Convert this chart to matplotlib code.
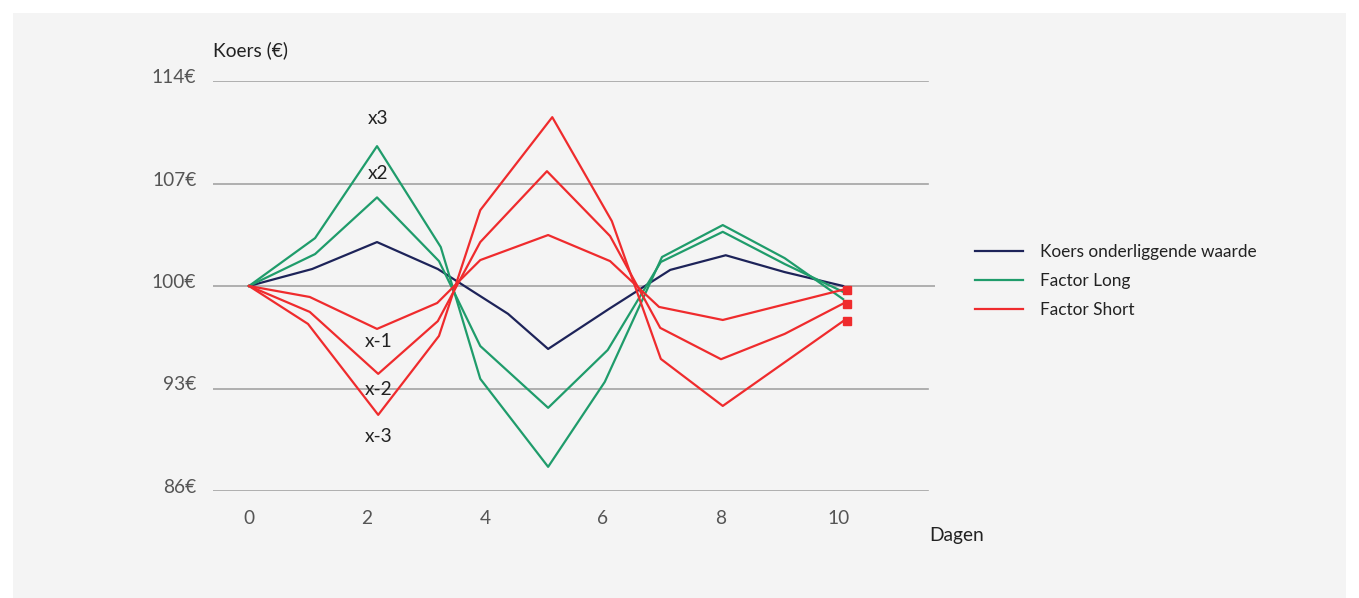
import matplotlib
matplotlib.use("Agg")
import matplotlib.pyplot as plt
from matplotlib.patches import Rectangle
from matplotlib.transforms import ScaledTranslation

# ---- data ----
y_ticks = [86, 93, 100, 107, 114]
y_tick_labels = ["86€", "93€", "100€", "107€", "114€"]
x_ticks = [0, 2, 4, 6, 8, 10]

koers_x = [0, 1.07, 2.17, 3.2, 4.39, 5.07, 6.1, 7.14, 8.08, 9.08, 10.07]
koers_y = [100, 101.16, 103.0, 101.16, 98.1, 95.7, 98.43, 101.1, 102.1, 100.95, 100.0]

long2_x = [0, 1.12, 2.17, 3.22, 3.92, 5.07, 6.08, 6.98, 8.03, 9.08, 10.07]
long2_y = [100, 102.18, 106.05, 101.7, 95.9, 91.68, 95.63, 101.64, 103.7, 101.5, 99.6]
long3_x = [0, 1.12, 2.17, 3.25, 3.92, 5.07, 6.03, 7.0, 8.03, 9.08, 10.07]
long3_y = [100, 103.27, 109.55, 102.66, 93.66, 87.65, 93.45, 101.98, 104.16, 101.9, 99.1]

short1_x = [0, 1.03, 2.17, 3.19, 3.92, 5.07, 6.12, 6.95, 8.03, 10.07]
short1_y = [100, 99.25, 97.07, 98.84, 101.77, 103.48, 101.7, 98.57, 97.68, 99.75]
short2_x = [0, 1.03, 2.19, 3.2, 3.92, 5.05, 6.12, 6.97, 8.0, 9.08, 10.07]
short2_y = [100, 98.23, 94.0, 97.6, 103.0, 107.84, 103.41, 97.14, 95.0, 96.73, 98.8]
short3_x = [0, 1.0, 2.19, 3.22, 3.92, 5.14, 6.15, 6.98, 8.03, 10.07]
short3_y = [100, 97.41, 91.2, 96.59, 105.18, 111.53, 104.43, 95.02, 91.81, 97.6]

factor_labels = ["x3", "x2", "x-1", "x-2", "x-3"]
factor_label_y = [111.47, 107.67, 96.2, 92.95, 89.75]
factor_label_x = 2.19

legend_labels = ["Koers onderliggende waarde", "Factor Long", "Factor Short"]

# ---- styling ----
NAVY = "#1d2359"
GREEN = "#1f9c6b"
RED = "#ef2b2d"
GRID = "#a3a3a3"
FONT = "Lato"
FS = 13.8

plt.rcParams["font.family"] = [FONT, "DejaVu Sans"]

W, H = 1359, 598
fig = plt.figure(figsize=(W / 100, H / 100), dpi=100, facecolor="white")
fig.patches.append(Rectangle((13 / W, 0), (1346 - 13) / W, 1 - 13 / H,
                             transform=fig.transFigure, facecolor="#f4f4f4",
                             edgecolor="none", zorder=-10))

ax = fig.add_axes([213 / W, 1 - 491 / H, (935 - 213) / W, (491 - 81) / H])
ax.set_facecolor("none")
for s in ax.spines.values():
    s.set_visible(False)

xl, xr = -0.61, 11.627
ax.set_xlim(xl, xr)
ax.set_ylim(86, 114)

for yt in y_ticks:
    xmax = 1.0 if yt == 100 else (11.508 - xl) / (xr - xl)
    ax.axhline(yt, xmin=0, xmax=xmax, color=GRID, lw=1.2, zorder=1)

lw = 1.6
ax.plot(koers_x, koers_y, color=NAVY, lw=lw, zorder=3, label=legend_labels[0])
ax.plot(long2_x, long2_y, color=GREEN, lw=lw, zorder=3, label=legend_labels[1])
ax.plot(long3_x, long3_y, color=GREEN, lw=lw, zorder=3)
for i, (sx, sy) in enumerate([(short1_x, short1_y), (short2_x, short2_y), (short3_x, short3_y)]):
    ax.plot(sx, sy, color=RED, lw=lw, zorder=3,
            label=legend_labels[2] if i == 0 else None)
    ax.plot([sx[-1] + 0.07], [sy[-1]], marker="s", ms=5.6, color=RED,
            lw=0, zorder=4, clip_on=False)

for lab, ly in zip(factor_labels, factor_label_y):
    ax.text(factor_label_x, ly, lab, ha="center", va="center",
            fontsize=FS, color="#222222", zorder=5)

ax.set_yticks(y_ticks)
ax.set_yticklabels(y_tick_labels)
ax.set_xticks(x_ticks)
ax.set_xticklabels([str(t) for t in x_ticks])
ax.tick_params(axis="both", length=0, labelsize=FS, labelcolor="#555555")
ax.tick_params(axis="y", pad=12)
ax.tick_params(axis="x", pad=14)
shift = ScaledTranslation(0, 5 / 100, fig.dpi_scale_trans)
for lbl in ax.get_yticklabels():
    lbl.set_transform(lbl.get_transform() + shift)

fig.text(213 / W, 1 - 50 / H, "Koers (€)", ha="left", va="center",
         fontsize=FS, color="#222222")
fig.text(929 / W, 1 - 535 / H, "Dagen", ha="left", va="center",
         fontsize=FS, color="#222222")

leg = ax.legend(loc="upper left", bbox_to_anchor=(975 / W, 1 - 244 / H),
                bbox_transform=fig.transFigure, frameon=False, fontsize=12.4,
                handlelength=2.8, handletextpad=1.0, labelspacing=0.75,
                borderpad=0, borderaxespad=0)
for t in leg.get_texts():
    t.set_color("#222222")

fig.savefig("out.png", dpi=100, facecolor="white")
